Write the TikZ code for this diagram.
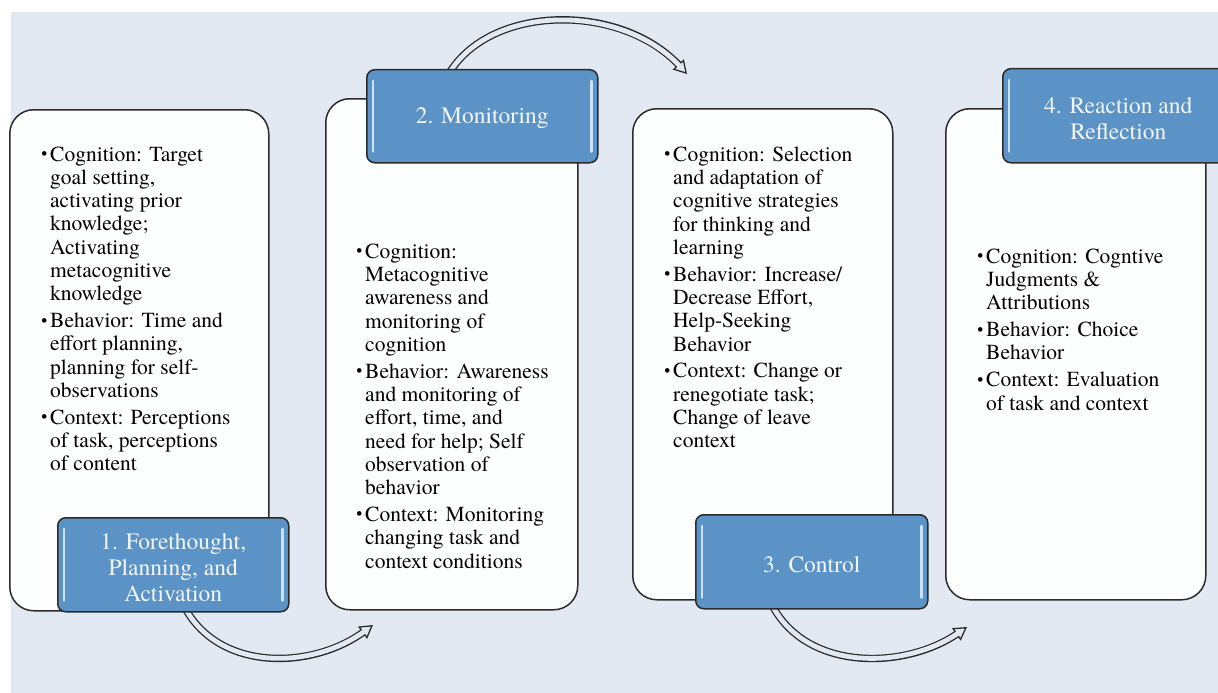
\documentclass[tikz,border=0pt]{standalone}
\usepackage{fontspec}
\setmainfont{texgyretermes}[Extension=.otf, UprightFont=*-regular, BoldFont=*-bold, ItalicFont=*-italic, BoldItalicFont=*-bolditalic]
\usetikzlibrary{arrows.meta}
\definecolor{bgc}{HTML}{E2E9F3}
\definecolor{boxfill}{HTML}{FDFEFE}
\definecolor{bluefill}{HTML}{5B93C6}
\definecolor{stripe}{HTML}{C9E4F8}
\definecolor{edge}{HTML}{2B2B2B}
\definecolor{titletext}{HTML}{F2F6FA}
\newcommand{\bul}{\llap{\raisebox{1.6pt}{\fontsize{17}{17}\selectfont\textbullet}\hspace{3pt}}}
\newcommand{\hollowarrow}[1]{%
  \draw[edge, line width=7.4pt, shorten >=11pt] #1;
  \draw[bgc, line width=1pt, -{Triangle[length=13pt,width=15pt,color=edge,fill=bgc,line width=1.3pt]}] #1;
  \draw[bgc, line width=4.8pt, shorten >=10pt] #1;
}
\tikzset{
  panel/.style={draw=edge, line width=1.5pt, fill=boxfill, rounded corners=24pt, anchor=north west, inner sep=0pt},
  titlebox/.style={draw=edge, line width=1.5pt, fill=bluefill, rounded corners=8pt, anchor=north west, inner sep=0pt},
  titletxt/.style={align=center, inner sep=0pt, font=\fontsize{23.5}{26}\selectfont, text=titletext},
  gloss/.style={stripe, line width=2.6pt, line cap=round},
  body/.style={anchor=north west, inner sep=0pt, align=left, font=\fontsize{21.5}{23.3}\selectfont, text=black},
}
\begin{document}
\begin{tikzpicture}[x=1pt,y=-1pt]
\useasboundingbox (0,0) rectangle (1218,693);
\clip (0,0) rectangle (1218,693);
\fill[white] (0,0) rectangle (1218,693);
\fill[bgc] (11,12) rectangle (1230,700);

% panels
\node[panel, minimum width=259, minimum height=501] (p1) at (9,109) {};
\node[panel, minimum width=252, minimum height=511] (p2) at (325,98) {};
\node[panel, minimum width=260, minimum height=491] (p3) at (632,108) {};
\node[panel, minimum width=260, minimum height=491] (p4) at (945,108) {};

% arrows
\coordinate (e1) at (373,625);
\coordinate (e2) at (687,74);
\coordinate (e3) at (967,627);
\coordinate (s1) at (184,606);
\coordinate (s2) at (448,75);
\coordinate (s3) at (771,603);
\hollowarrow{(s1) .. controls (218,672) and (312,670) .. (e1)}
\hollowarrow{(s2) .. controls (490,3) and (622,3) .. (e2)}
\hollowarrow{(s3) .. controls (805,672) and (905,670) .. (e3)}

% title boxes
\node[titlebox, minimum width=231, minimum height=94] (t1) at (57,517) {};
\node[titlebox, minimum width=231, minimum height=93] (t2) at (366,69) {};
\node[titlebox, minimum width=232, minimum height=94] (t3) at (695,514) {};
\node[titlebox, minimum width=231, minimum height=94] (t4) at (1002,68) {};
\foreach \t in {t1,t2,t3,t4}{
  \draw[gloss] ([xshift=7pt,yshift=-12pt]\t.north west) -- ([xshift=7pt,yshift=12pt]\t.south west);
  \draw[gloss] ([xshift=-7pt,yshift=-12pt]\t.north east) -- ([xshift=-7pt,yshift=12pt]\t.south east);
}
\node[titletxt] (l1) at ([yshift=-3pt]t1.center) {1. Forethought,\\Planning, and\\Activation};
\node[titletxt] (l2) at ([yshift=-2pt]t2.center) {2. Monitoring};
\node[titletxt] (l3) at ([yshift=-3pt]t3.center) {3. Control};
\node[titletxt] (l4) at ([yshift=-3pt]t4.center) {4. Reaction and\\Reflection};

% body texts
\node[body] (b1) at (50,146.3) {\bul Cognition: Target\\ goal setting,\\ activating prior\\ knowledge;\\ Activating\\ metacognitive\\ knowledge\\[3.5pt]
\bul Behavior: Time and\\ effort planning,\\ planning for self-\\ observations\\[3.5pt]
\bul Context: Perceptions\\ of task, perceptions\\ of content};

\node[body] (b2) at (365,243.5) {\bul Cognition:\\ Metacognitive\\ awareness and\\ monitoring of\\ cognition\\[3.5pt]
\bul Behavior: Awareness\\ and monitoring of\\ effort, time, and\\ need for help; Self\\ observation of\\ behavior\\[3.5pt]
\bul Context: Monitoring\\ changing task and\\ context conditions};

\node[body] (b3) at (673,146.3) {\bul Cognition: Selection\\ and adaptation of\\ cognitive strategies\\ for thinking and\\ learning\\[3.5pt]
\bul Behavior: Increase/\\ Decrease Effort,\\ Help-Seeking\\ Behavior\\[3.5pt]
\bul Context: Change or\\ renegotiate task;\\ Change of leave\\ context};

\node[body] (b4) at (986,248.5) {\bul Cognition: Cogntive\\ Judgments \&\\ Attributions\\[3.5pt]
\bul Behavior: Choice\\ Behavior\\[3.5pt]
\bul Context: Evaluation\\ of task and context};
\end{tikzpicture}
\end{document}
